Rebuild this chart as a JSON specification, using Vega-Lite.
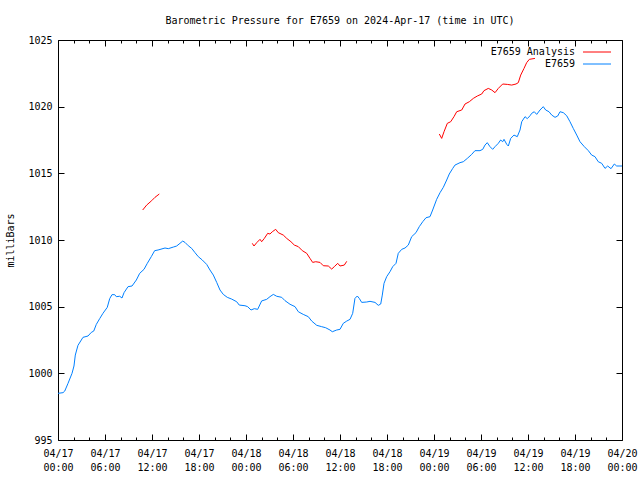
{
  "$schema": "https://vega.github.io/schema/vega-lite/v6.json",
  "width": 564,
  "height": 400,
  "autosize": "none",
  "padding": {"left": 58, "top": 40, "right": 18, "bottom": 40},
  "background": "white",
  "config": {
    "view": {"stroke": "black", "strokeWidth": 1},
    "axis": {"labelFont": "DejaVu Sans Mono", "labelFontSize": 10, "labelColor": "black", "tickColor": "black", "domain": false, "grid": false, "titleFont": "DejaVu Sans Mono", "titleFontSize": 10, "titleFontWeight": "normal", "titleColor": "black"}
  },
  "title": {"text": "Barometric Pressure for E7659 on 2024-Apr-17 (time in UTC)", "font": "DejaVu Sans Mono", "fontSize": 10, "fontWeight": "normal", "anchor": "middle", "offset": 9, "color": "black"},
  "data": {"values": [
    {"series":"E7659 Analysis","seg":"a1","hour":10.81,"mb":1012.25},
    {"series":"E7659 Analysis","seg":"a1","hour":11.32,"mb":1012.62},
    {"series":"E7659 Analysis","seg":"a1","hour":11.96,"mb":1012.95},
    {"series":"E7659 Analysis","seg":"a1","hour":12.38,"mb":1013.2},
    {"series":"E7659 Analysis","seg":"a1","hour":12.93,"mb":1013.45},
    {"series":"E7659 Analysis","seg":"a2","hour":24.80,"mb":1009.75},
    {"series":"E7659 Analysis","seg":"a2","hour":25.02,"mb":1009.55},
    {"series":"E7659 Analysis","seg":"a2","hour":25.37,"mb":1009.8},
    {"series":"E7659 Analysis","seg":"a2","hour":25.79,"mb":1010.05},
    {"series":"E7659 Analysis","seg":"a2","hour":26.00,"mb":1009.87},
    {"series":"E7659 Analysis","seg":"a2","hour":26.34,"mb":1010.12},
    {"series":"E7659 Analysis","seg":"a2","hour":26.77,"mb":1010.5},
    {"series":"E7659 Analysis","seg":"a2","hour":27.06,"mb":1010.45},
    {"series":"E7659 Analysis","seg":"a2","hour":27.36,"mb":1010.62},
    {"series":"E7659 Analysis","seg":"a2","hour":27.79,"mb":1010.8},
    {"series":"E7659 Analysis","seg":"a2","hour":28.12,"mb":1010.55},
    {"series":"E7659 Analysis","seg":"a2","hour":28.76,"mb":1010.37},
    {"series":"E7659 Analysis","seg":"a2","hour":29.20,"mb":1010.12},
    {"series":"E7659 Analysis","seg":"a2","hour":29.74,"mb":1009.87},
    {"series":"E7659 Analysis","seg":"a2","hour":30.17,"mb":1009.62},
    {"series":"E7659 Analysis","seg":"a2","hour":30.68,"mb":1009.5},
    {"series":"E7659 Analysis","seg":"a2","hour":31.19,"mb":1009.2},
    {"series":"E7659 Analysis","seg":"a2","hour":31.75,"mb":1009.0},
    {"series":"E7659 Analysis","seg":"a2","hour":32.17,"mb":1008.62},
    {"series":"E7659 Analysis","seg":"a2","hour":32.51,"mb":1008.32},
    {"series":"E7659 Analysis","seg":"a2","hour":32.90,"mb":1008.37},
    {"series":"E7659 Analysis","seg":"a2","hour":33.45,"mb":1008.32},
    {"series":"E7659 Analysis","seg":"a2","hour":33.87,"mb":1008.07},
    {"series":"E7659 Analysis","seg":"a2","hour":34.51,"mb":1008.05},
    {"series":"E7659 Analysis","seg":"a2","hour":34.94,"mb":1007.82},
    {"series":"E7659 Analysis","seg":"a2","hour":35.27,"mb":1008.0},
    {"series":"E7659 Analysis","seg":"a2","hour":35.71,"mb":1008.25},
    {"series":"E7659 Analysis","seg":"a2","hour":36.00,"mb":1008.05},
    {"series":"E7659 Analysis","seg":"a2","hour":36.55,"mb":1008.12},
    {"series":"E7659 Analysis","seg":"a2","hour":36.86,"mb":1008.4},
    {"series":"E7659 Analysis","seg":"a3","hour":48.68,"mb":1017.95},
    {"series":"E7659 Analysis","seg":"a3","hour":48.98,"mb":1017.62},
    {"series":"E7659 Analysis","seg":"a3","hour":49.28,"mb":1018.12},
    {"series":"E7659 Analysis","seg":"a3","hour":49.70,"mb":1018.75},
    {"series":"E7659 Analysis","seg":"a3","hour":50.13,"mb":1018.87},
    {"series":"E7659 Analysis","seg":"a3","hour":50.55,"mb":1019.25},
    {"series":"E7659 Analysis","seg":"a3","hour":50.90,"mb":1019.62},
    {"series":"E7659 Analysis","seg":"a3","hour":51.54,"mb":1019.75},
    {"series":"E7659 Analysis","seg":"a3","hour":51.96,"mb":1020.2},
    {"series":"E7659 Analysis","seg":"a3","hour":52.51,"mb":1020.37},
    {"series":"E7659 Analysis","seg":"a3","hour":53.02,"mb":1020.62},
    {"series":"E7659 Analysis","seg":"a3","hour":53.53,"mb":1020.8},
    {"series":"E7659 Analysis","seg":"a3","hour":54.09,"mb":1020.95},
    {"series":"E7659 Analysis","seg":"a3","hour":54.38,"mb":1021.2},
    {"series":"E7659 Analysis","seg":"a3","hour":54.93,"mb":1021.37},
    {"series":"E7659 Analysis","seg":"a3","hour":55.37,"mb":1021.25},
    {"series":"E7659 Analysis","seg":"a3","hour":55.79,"mb":1021.05},
    {"series":"E7659 Analysis","seg":"a3","hour":56.21,"mb":1021.37},
    {"series":"E7659 Analysis","seg":"a3","hour":56.77,"mb":1021.7},
    {"series":"E7659 Analysis","seg":"a3","hour":57.36,"mb":1021.67},
    {"series":"E7659 Analysis","seg":"a3","hour":57.92,"mb":1021.62},
    {"series":"E7659 Analysis","seg":"a3","hour":58.47,"mb":1021.7},
    {"series":"E7659 Analysis","seg":"a3","hour":58.76,"mb":1021.8},
    {"series":"E7659 Analysis","seg":"a3","hour":59.07,"mb":1022.37},
    {"series":"E7659 Analysis","seg":"a3","hour":59.49,"mb":1022.87},
    {"series":"E7659 Analysis","seg":"a3","hour":59.83,"mb":1023.3},
    {"series":"E7659 Analysis","seg":"a3","hour":60.17,"mb":1023.55},
    {"series":"E7659 Analysis","seg":"a3","hour":60.89,"mb":1023.62},
    {"series":"E7659","seg":"b","hour":0,"mb":998.5},
    {"series":"E7659","seg":"b","hour":0.64,"mb":998.55},
    {"series":"E7659","seg":"b","hour":0.86,"mb":998.67},
    {"series":"E7659","seg":"b","hour":1.28,"mb":999.25},
    {"series":"E7659","seg":"b","hour":1.79,"mb":1000.0},
    {"series":"E7659","seg":"b","hour":2.04,"mb":1000.55},
    {"series":"E7659","seg":"b","hour":2.21,"mb":1001.37},
    {"series":"E7659","seg":"b","hour":2.55,"mb":1002.1},
    {"series":"E7659","seg":"b","hour":3.19,"mb":1002.7},
    {"series":"E7659","seg":"b","hour":3.83,"mb":1002.8},
    {"series":"E7659","seg":"b","hour":4.25,"mb":1003.07},
    {"series":"E7659","seg":"b","hour":4.56,"mb":1003.17},
    {"series":"E7659","seg":"b","hour":4.89,"mb":1003.67},
    {"series":"E7659","seg":"b","hour":5.32,"mb":1004.1},
    {"series":"E7659","seg":"b","hour":5.74,"mb":1004.5},
    {"series":"E7659","seg":"b","hour":6.29,"mb":1004.95},
    {"series":"E7659","seg":"b","hour":6.60,"mb":1005.6},
    {"series":"E7659","seg":"b","hour":6.89,"mb":1005.9},
    {"series":"E7659","seg":"b","hour":7.24,"mb":1005.9},
    {"series":"E7659","seg":"b","hour":7.44,"mb":1005.75},
    {"series":"E7659","seg":"b","hour":7.88,"mb":1005.78},
    {"series":"E7659","seg":"b","hour":8.17,"mb":1005.65},
    {"series":"E7659","seg":"b","hour":8.43,"mb":1006.05},
    {"series":"E7659","seg":"b","hour":8.94,"mb":1006.5},
    {"series":"E7659","seg":"b","hour":9.45,"mb":1006.55},
    {"series":"E7659","seg":"b","hour":10.0,"mb":1007.0},
    {"series":"E7659","seg":"b","hour":10.43,"mb":1007.5},
    {"series":"E7659","seg":"b","hour":10.98,"mb":1007.8},
    {"series":"E7659","seg":"b","hour":11.40,"mb":1008.25},
    {"series":"E7659","seg":"b","hour":11.91,"mb":1008.75},
    {"series":"E7659","seg":"b","hour":12.34,"mb":1009.2},
    {"series":"E7659","seg":"b","hour":12.77,"mb":1009.25},
    {"series":"E7659","seg":"b","hour":13.66,"mb":1009.4},
    {"series":"E7659","seg":"b","hour":14.08,"mb":1009.35},
    {"series":"E7659","seg":"b","hour":14.72,"mb":1009.47},
    {"series":"E7659","seg":"b","hour":15.15,"mb":1009.55},
    {"series":"E7659","seg":"b","hour":15.57,"mb":1009.75},
    {"series":"E7659","seg":"b","hour":15.92,"mb":1009.92},
    {"series":"E7659","seg":"b","hour":16.21,"mb":1009.82},
    {"series":"E7659","seg":"b","hour":16.63,"mb":1009.57},
    {"series":"E7659","seg":"b","hour":17.07,"mb":1009.37},
    {"series":"E7659","seg":"b","hour":17.49,"mb":1009.05},
    {"series":"E7659","seg":"b","hour":17.91,"mb":1008.75},
    {"series":"E7659","seg":"b","hour":18.42,"mb":1008.5},
    {"series":"E7659","seg":"b","hour":18.98,"mb":1008.17},
    {"series":"E7659","seg":"b","hour":19.40,"mb":1007.75},
    {"series":"E7659","seg":"b","hour":19.83,"mb":1007.37},
    {"series":"E7659","seg":"b","hour":20.26,"mb":1006.82},
    {"series":"E7659","seg":"b","hour":20.68,"mb":1006.25},
    {"series":"E7659","seg":"b","hour":21.10,"mb":1005.92},
    {"series":"E7659","seg":"b","hour":21.61,"mb":1005.7},
    {"series":"E7659","seg":"b","hour":22.17,"mb":1005.57},
    {"series":"E7659","seg":"b","hour":22.81,"mb":1005.37},
    {"series":"E7659","seg":"b","hour":23.14,"mb":1005.12},
    {"series":"E7659","seg":"b","hour":23.87,"mb":1005.07},
    {"series":"E7659","seg":"b","hour":24.21,"mb":1005.0},
    {"series":"E7659","seg":"b","hour":24.64,"mb":1004.75},
    {"series":"E7659","seg":"b","hour":25.06,"mb":1004.85},
    {"series":"E7659","seg":"b","hour":25.49,"mb":1004.8},
    {"series":"E7659","seg":"b","hour":26.00,"mb":1005.43},
    {"series":"E7659","seg":"b","hour":26.64,"mb":1005.55},
    {"series":"E7659","seg":"b","hour":27.06,"mb":1005.75},
    {"series":"E7659","seg":"b","hour":27.49,"mb":1005.92},
    {"series":"E7659","seg":"b","hour":27.92,"mb":1005.78},
    {"series":"E7659","seg":"b","hour":28.56,"mb":1005.7},
    {"series":"E7659","seg":"b","hour":28.98,"mb":1005.45},
    {"series":"E7659","seg":"b","hour":29.62,"mb":1005.18},
    {"series":"E7659","seg":"b","hour":30.26,"mb":1005.0},
    {"series":"E7659","seg":"b","hour":30.68,"mb":1004.62},
    {"series":"E7659","seg":"b","hour":31.31,"mb":1004.42},
    {"series":"E7659","seg":"b","hour":31.95,"mb":1004.25},
    {"series":"E7659","seg":"b","hour":32.39,"mb":1003.92},
    {"series":"E7659","seg":"b","hour":33.03,"mb":1003.6},
    {"series":"E7659","seg":"b","hour":33.66,"mb":1003.5},
    {"series":"E7659","seg":"b","hour":34.17,"mb":1003.42},
    {"series":"E7659","seg":"b","hour":34.72,"mb":1003.25},
    {"series":"E7659","seg":"b","hour":35.02,"mb":1003.12},
    {"series":"E7659","seg":"b","hour":35.58,"mb":1003.25},
    {"series":"E7659","seg":"b","hour":36.00,"mb":1003.3},
    {"series":"E7659","seg":"b","hour":36.42,"mb":1003.75},
    {"series":"E7659","seg":"b","hour":36.86,"mb":1003.92},
    {"series":"E7659","seg":"b","hour":37.28,"mb":1004.05},
    {"series":"E7659","seg":"b","hour":37.62,"mb":1004.5},
    {"series":"E7659","seg":"b","hour":37.91,"mb":1005.62},
    {"series":"E7659","seg":"b","hour":38.21,"mb":1005.8},
    {"series":"E7659","seg":"b","hour":38.46,"mb":1005.62},
    {"series":"E7659","seg":"b","hour":38.77,"mb":1005.32},
    {"series":"E7659","seg":"b","hour":39.41,"mb":1005.35},
    {"series":"E7659","seg":"b","hour":39.83,"mb":1005.4},
    {"series":"E7659","seg":"b","hour":40.47,"mb":1005.32},
    {"series":"E7659","seg":"b","hour":40.89,"mb":1005.1},
    {"series":"E7659","seg":"b","hour":41.20,"mb":1005.2},
    {"series":"E7659","seg":"b","hour":41.40,"mb":1005.87},
    {"series":"E7659","seg":"b","hour":41.62,"mb":1006.75},
    {"series":"E7659","seg":"b","hour":41.96,"mb":1007.25},
    {"series":"E7659","seg":"b","hour":42.38,"mb":1007.62},
    {"series":"E7659","seg":"b","hour":42.73,"mb":1008.0},
    {"series":"E7659","seg":"b","hour":43.15,"mb":1008.25},
    {"series":"E7659","seg":"b","hour":43.44,"mb":1009.0},
    {"series":"E7659","seg":"b","hour":43.88,"mb":1009.3},
    {"series":"E7659","seg":"b","hour":44.30,"mb":1009.4},
    {"series":"E7659","seg":"b","hour":44.72,"mb":1009.62},
    {"series":"E7659","seg":"b","hour":45.15,"mb":1010.25},
    {"series":"E7659","seg":"b","hour":45.70,"mb":1010.55},
    {"series":"E7659","seg":"b","hour":46.12,"mb":1011.0},
    {"series":"E7659","seg":"b","hour":46.56,"mb":1011.37},
    {"series":"E7659","seg":"b","hour":46.98,"mb":1011.67},
    {"series":"E7659","seg":"b","hour":47.49,"mb":1011.75},
    {"series":"E7659","seg":"b","hour":47.83,"mb":1012.25},
    {"series":"E7659","seg":"b","hour":48.34,"mb":1013.05},
    {"series":"E7659","seg":"b","hour":48.77,"mb":1013.55},
    {"series":"E7659","seg":"b","hour":49.19,"mb":1013.95},
    {"series":"E7659","seg":"b","hour":49.62,"mb":1014.5},
    {"series":"E7659","seg":"b","hour":49.95,"mb":1014.95},
    {"series":"E7659","seg":"b","hour":50.39,"mb":1015.37},
    {"series":"E7659","seg":"b","hour":50.68,"mb":1015.62},
    {"series":"E7659","seg":"b","hour":51.32,"mb":1015.8},
    {"series":"E7659","seg":"b","hour":51.74,"mb":1015.87},
    {"series":"E7659","seg":"b","hour":52.25,"mb":1016.12},
    {"series":"E7659","seg":"b","hour":52.81,"mb":1016.42},
    {"series":"E7659","seg":"b","hour":53.23,"mb":1016.7},
    {"series":"E7659","seg":"b","hour":53.87,"mb":1016.7},
    {"series":"E7659","seg":"b","hour":54.22,"mb":1016.8},
    {"series":"E7659","seg":"b","hour":54.51,"mb":1017.12},
    {"series":"E7659","seg":"b","hour":54.80,"mb":1017.3},
    {"series":"E7659","seg":"b","hour":55.15,"mb":1017.0},
    {"series":"E7659","seg":"b","hour":55.49,"mb":1016.8},
    {"series":"E7659","seg":"b","hour":55.79,"mb":1017.0},
    {"series":"E7659","seg":"b","hour":56.21,"mb":1017.25},
    {"series":"E7659","seg":"b","hour":56.51,"mb":1017.5},
    {"series":"E7659","seg":"b","hour":56.77,"mb":1017.37},
    {"series":"E7659","seg":"b","hour":56.94,"mb":1017.55},
    {"series":"E7659","seg":"b","hour":57.28,"mb":1017.18},
    {"series":"E7659","seg":"b","hour":57.49,"mb":1017.05},
    {"series":"E7659","seg":"b","hour":57.79,"mb":1017.62},
    {"series":"E7659","seg":"b","hour":58.21,"mb":1017.87},
    {"series":"E7659","seg":"b","hour":58.63,"mb":1017.75},
    {"series":"E7659","seg":"b","hour":58.98,"mb":1018.25},
    {"series":"E7659","seg":"b","hour":59.20,"mb":1018.87},
    {"series":"E7659","seg":"b","hour":59.62,"mb":1019.25},
    {"series":"E7659","seg":"b","hour":59.91,"mb":1019.1},
    {"series":"E7659","seg":"b","hour":60.26,"mb":1019.32},
    {"series":"E7659","seg":"b","hour":60.47,"mb":1019.5},
    {"series":"E7659","seg":"b","hour":60.80,"mb":1019.62},
    {"series":"E7659","seg":"b","hour":61.11,"mb":1019.42},
    {"series":"E7659","seg":"b","hour":61.53,"mb":1019.75},
    {"series":"E7659","seg":"b","hour":61.95,"mb":1020.0},
    {"series":"E7659","seg":"b","hour":62.26,"mb":1019.75},
    {"series":"E7659","seg":"b","hour":62.68,"mb":1019.62},
    {"series":"E7659","seg":"b","hour":63.03,"mb":1019.37},
    {"series":"E7659","seg":"b","hour":63.45,"mb":1019.2},
    {"series":"E7659","seg":"b","hour":63.79,"mb":1019.3},
    {"series":"E7659","seg":"b","hour":64.09,"mb":1019.62},
    {"series":"E7659","seg":"b","hour":64.51,"mb":1019.55},
    {"series":"E7659","seg":"b","hour":64.94,"mb":1019.32},
    {"series":"E7659","seg":"b","hour":65.36,"mb":1018.87},
    {"series":"E7659","seg":"b","hour":65.78,"mb":1018.37},
    {"series":"E7659","seg":"b","hour":66.22,"mb":1017.87},
    {"series":"E7659","seg":"b","hour":66.64,"mb":1017.37},
    {"series":"E7659","seg":"b","hour":67.19,"mb":1017.0},
    {"series":"E7659","seg":"b","hour":67.70,"mb":1016.7},
    {"series":"E7659","seg":"b","hour":68.13,"mb":1016.37},
    {"series":"E7659","seg":"b","hour":68.55,"mb":1016.25},
    {"series":"E7659","seg":"b","hour":68.97,"mb":1015.87},
    {"series":"E7659","seg":"b","hour":69.41,"mb":1015.75},
    {"series":"E7659","seg":"b","hour":69.83,"mb":1015.37},
    {"series":"E7659","seg":"b","hour":70.17,"mb":1015.55},
    {"series":"E7659","seg":"b","hour":70.60,"mb":1015.35},
    {"series":"E7659","seg":"b","hour":71.02,"mb":1015.7},
    {"series":"E7659","seg":"b","hour":71.32,"mb":1015.55},
    {"series":"E7659","seg":"b","hour":71.74,"mb":1015.55},
    {"series":"E7659","seg":"b","hour":72.0,"mb":1015.55}
  ]},
  "layer": [
    {
      "mark": {"type": "line", "strokeWidth": 1, "opacity": 0},
      "encoding": {
        "x": {"field": "hour", "type": "quantitative", "scale": {"domain": [0, 72], "nice": false, "zero": false},
              "axis": {"orient": "top", "values": [0,2,4,6,8,10,12,14,16,18,20,22,24,26,28,30,32,34,36,38,40,42,44,46,48,50,52,54,56,58,60,62,64,66,68,70,72], "labels": false, "title": null,
                       "tickSize": {"condition": {"test": "datum.value % 6 === 0", "value": -6}, "value": -3}}},
        "y": {"field": "mb", "type": "quantitative", "scale": {"domain": [995, 1025], "nice": false, "zero": false},
              "axis": {"orient": "right", "values": [995,1000,1005,1010,1015,1020,1025], "labels": false, "title": null, "tickSize": -6}},
        "detail": {"field": "seg"}
      }
    },
    {
      "mark": {"type": "line", "strokeWidth": 1, "interpolate": "linear"},
      "encoding": {
        "x": {"field": "hour", "type": "quantitative", "scale": {"domain": [0, 72], "nice": false, "zero": false},
              "axis": {"orient": "bottom", "values": [0,2,4,6,8,10,12,14,16,18,20,22,24,26,28,30,32,34,36,38,40,42,44,46,48,50,52,54,56,58,60,62,64,66,68,70,72], "title": null,
                       "tickSize": {"condition": {"test": "datum.value % 6 === 0", "value": -6}, "value": -3},
                       "labelPadding": 14, "labelLineHeight": 14, "labelBaseline": "top", "labelFlush": false, "labelOverlap": false,
                       "labelExpr": "datum.value % 6 === 0 ? ['04/' + (17 + floor(datum.value / 24)), ((datum.value % 24) < 10 ? '0' : '') + (datum.value % 24) + ':00'] : ''"}},
        "y": {"field": "mb", "type": "quantitative", "scale": {"domain": [995, 1025], "nice": false, "zero": false},
              "axis": {"orient": "left", "values": [995,1000,1005,1010,1015,1020,1025], "format": "d", "title": "milliBars", "tickSize": -6, "labelPadding": 12, "titlePadding": 12, "labelFlush": false}},
        "color": {"field": "series", "type": "nominal", "scale": {"domain": ["E7659 Analysis", "E7659"], "range": ["#ff0000", "#0080ff"]},
                  "legend": {"orient": "none", "legendX": 534, "legendY": 7, "title": null, "symbolType": "M-4,0H4", "symbolSize": 49, "symbolStrokeWidth": 1, "symbolFillColor": "transparent", "labelAlign": "right", "labelOffset": -27, "labelFont": "DejaVu Sans Mono", "labelFontSize": 10, "labelColor": "black", "labelLimit": 300, "rowPadding": 2, "padding": 0}},
        "detail": {"field": "seg"}
      }
    }
  ],
  "resolve": {"axis": {"x": "independent", "y": "independent"}}
}
